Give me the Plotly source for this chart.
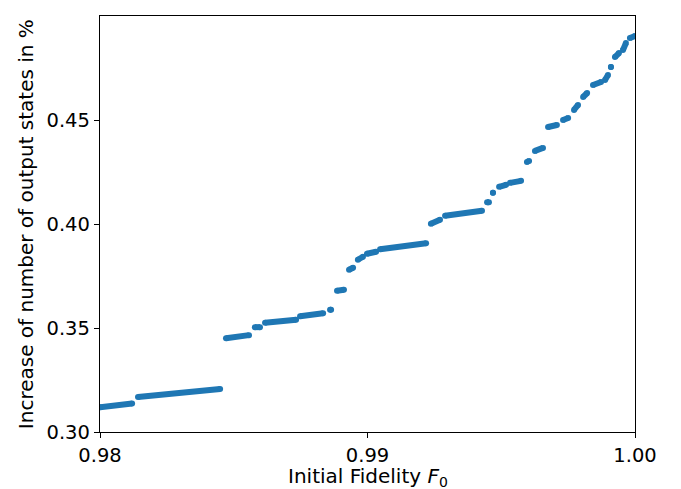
import plotly.graph_objects as go

# Segments of the scatter (start/end of each contiguous run of points)
seg_x_start = [0.98000, 0.98142, 0.98471, 0.98579, 0.98617, 0.98748, 0.98860, 0.98886,
               0.98931, 0.98964, 0.98998, 0.99047, 0.99237, 0.99290, 0.99447, 0.99469,
               0.99492, 0.99533, 0.99596, 0.99626, 0.99675, 0.99731, 0.99772, 0.99806,
               0.99843, 0.99888, 0.99910, 0.99925, 0.99955, 0.99981]
seg_x_end = [0.98120, 0.98449, 0.98557, 0.98598, 0.98733, 0.98834, 0.98864, 0.98912,
             0.98946, 0.98983, 0.99032, 0.99219, 0.99271, 0.99428, 0.99454, 0.99469,
             0.99518, 0.99574, 0.99604, 0.99656, 0.99708, 0.99750, 0.99787, 0.99821,
             0.99873, 0.99899, 0.99910, 0.99940, 0.99966, 1.00000]
seg_y_start = [0.31191, 0.31680, 0.34503, 0.35041, 0.35257, 0.35569, 0.35881, 0.36793,
               0.37801, 0.38281, 0.38569, 0.38785, 0.40010, 0.40394, 0.41042, 0.41498,
               0.41786, 0.41978, 0.42986, 0.43514, 0.44666, 0.45002, 0.45482, 0.46106,
               0.46682, 0.46922, 0.47547, 0.48027, 0.48363, 0.48939]
seg_y_end = [0.31368, 0.32064, 0.34657, 0.35041, 0.35401, 0.35713, 0.35881, 0.36841,
             0.37897, 0.38425, 0.38665, 0.39073, 0.40202, 0.40634, 0.41042, 0.41498,
             0.41882, 0.42074, 0.43034, 0.43658, 0.44762, 0.45098, 0.45722, 0.46298,
             0.46826, 0.47162, 0.47547, 0.48219, 0.48699, 0.49035]

x_ticks = [0.98, 0.99, 1.00]
y_ticks = [0.30, 0.35, 0.40, 0.45]

xs, ys = [], []
for x0, x1, y0, y1 in zip(seg_x_start, seg_x_end, seg_y_start, seg_y_end):
    xs += [x0, x1, None]
    ys += [y0, y1, None]

C = "#1f77b4"
fig = go.Figure()
fig.add_trace(go.Scatter(x=xs, y=ys, mode="lines+markers",
                         line=dict(color=C, width=6),
                         marker=dict(color=C, size=6),
                         connectgaps=False, showlegend=False, hoverinfo="skip"))

tick_font = dict(family="DejaVu Sans", size=19.5, color="black")
label_font = dict(family="DejaVu Sans", size=20, color="black")
axis_common = dict(showline=True, linecolor="black", linewidth=1.3, mirror=True,
                   ticks="outside", ticklen=5, tickwidth=1.2, tickcolor="black",
                   showgrid=False, zeroline=False, tickfont=tick_font)
fig.update_xaxes(range=[0.98, 1.00], tickvals=x_ticks, tickformat=".2f", **axis_common)
fig.update_yaxes(range=[0.30, 0.50], tickvals=y_ticks, tickformat=".2f", **axis_common)

fig.add_annotation(text="Initial Fidelity <i>F</i><sub>0</sub>", xref="paper", yref="paper",
                   x=0.5, y=-0.075, xanchor="center", yanchor="top", showarrow=False,
                   font=label_font, borderpad=0)
fig.add_annotation(text="Increase of number of output states in %", xref="paper", yref="paper",
                   x=-0.138, y=0.5, xanchor="center", yanchor="middle", textangle=-90,
                   showarrow=False, font=label_font, borderpad=0)

fig.update_layout(width=681, height=489, margin=dict(l=100, r=46, t=16, b=57),
                  plot_bgcolor="white", paper_bgcolor="white", font=tick_font)
fig.write_html("out.html", config={"displayModeBar": False},
               post_script="document.body.style.margin='0';")
